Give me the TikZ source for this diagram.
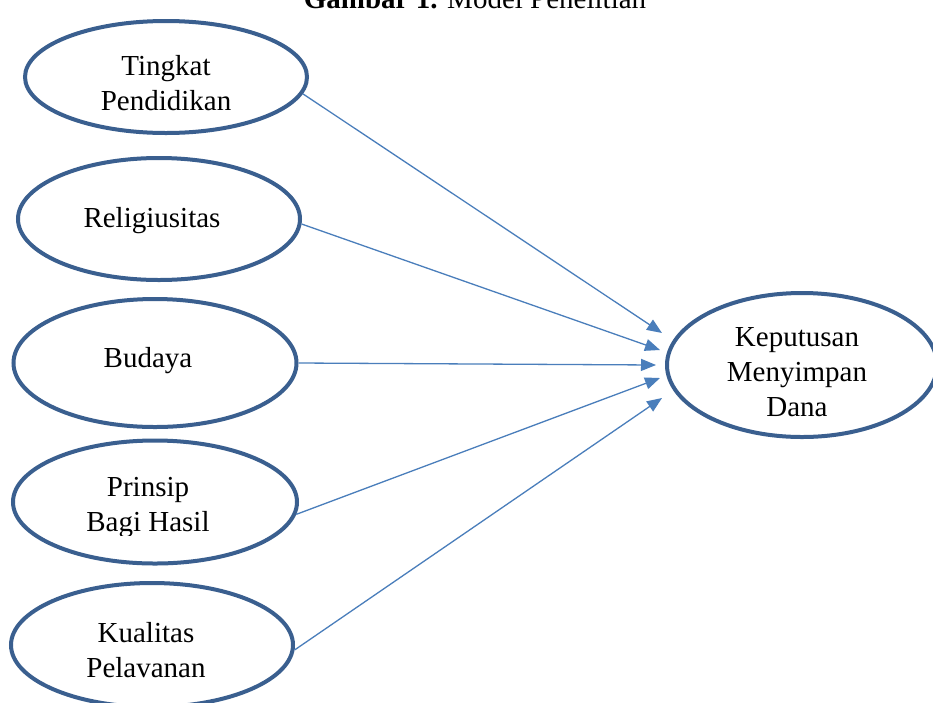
\documentclass[tikz,border=0pt]{standalone}
\usepackage{fontspec}
\setmainfont{Liberation Serif}
\usetikzlibrary{shapes.geometric,arrows.meta}
\definecolor{ellcol}{HTML}{3A5F8F}
\definecolor{arrcol}{HTML}{4A7EBB}
\tikzset{
  varell/.style={ellipse, draw=ellcol, line width=4pt, minimum width=282pt, minimum height=116pt, inner sep=0pt},
  lbl/.style={align=center, font=\fontsize{29}{35}\selectfont, text=black},
  conn/.style={draw=arrcol, line width=1.3pt, -{Triangle[length=15pt,width=12pt]}}
}
\begin{document}
\begin{tikzpicture}[x=1pt,y=-1pt]
\clip (0,0) rectangle (933,702);
\fill[white] (0,0) rectangle (933,702);
% title (cut off at the top)
\node[lbl, anchor=base] (title) at (475,8) {\textbf{Gambar 1.} Model Penelitian};
% independent variables
\node[varell, minimum height=112pt] (tp) at (166,77) {};
\node[lbl] (tpt) at (166,83) {Tingkat\\Pendidikan};
\node[varell, minimum height=122pt] (rel) at (159,219) {};
\node[lbl] (relt) at (152,221) {Religiusitas};
\node[varell, minimum height=128pt, minimum width=283pt] (bud) at (155,363) {};
\node[lbl] (budt) at (148,361) {Budaya};
\node[varell, minimum height=123pt, minimum width=284pt] (pbh) at (155,502) {};
\begin{scope}
\clip (0,0) rectangle (933,535);
\node[lbl] (pbht) at (148,508) {Prinsip\\Bagi Hasil};
\end{scope}
\node[varell, minimum height=124pt] (kp) at (152,645) {};
\node[lbl] (kpt) at (146,650) {Kualitas\\Pelavanan};
% dependent variable
\node[varell, minimum width=270pt, minimum height=144pt] (kmd) at (802,365) {};
\node[lbl] (kmdt) at (797,372) {Keputusan\\Menyimpan\\Dana};
% arrow ends
\coordinate (e1) at (662,333);
\coordinate (e2) at (660,350);
\coordinate (e3) at (656,365);
\coordinate (e4) at (660,378);
\coordinate (e5) at (662,398);
\draw[conn] (tp.-7) -- (e1);
\draw[conn] (rel.-2) -- (e2);
\draw[conn] (bud.east) -- (e3);
\draw[conn] (pbh.-5) -- (e4);
\draw[conn] (kp.-2) -- (e5);
\end{tikzpicture}
\end{document}
